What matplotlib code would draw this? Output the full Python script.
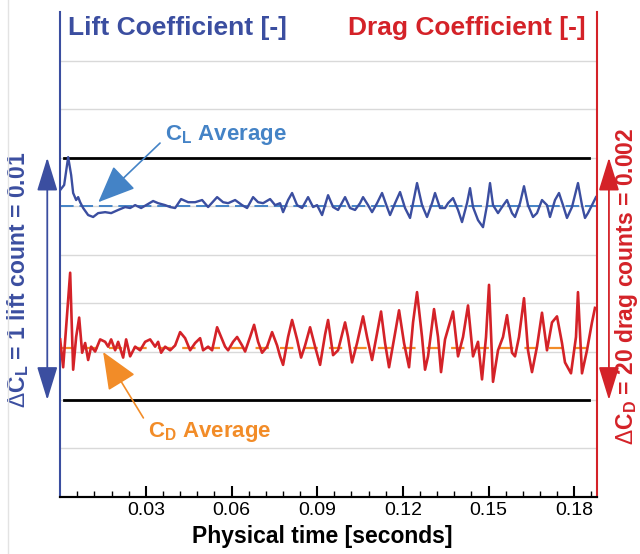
import numpy as np
import matplotlib
matplotlib.use("Agg")
import matplotlib.pyplot as plt
from matplotlib.lines import Line2D

plt.rcParams['font.family'] = ['Liberation Sans', 'DejaVu Sans']
plt.rcParams['mathtext.fontset'] = 'custom'
plt.rcParams['mathtext.rm'] = 'Liberation Sans'
plt.rcParams['mathtext.bf'] = 'Liberation Sans:bold'

# lift history: time [ms], CL [-]
t_lift = [0.00, 1.40, 2.80, 3.85, 4.55, 5.60, 6.30, 7.00, 8.05, 9.80, 11.55, 13.30, 15.75, 17.85,
          20.30, 22.75, 24.50, 26.25, 28.35, 30.10, 32.55, 34.30, 36.75, 38.50, 40.25, 42.35, 44.80,
          47.25, 49.70, 51.80, 54.95, 57.05, 58.80, 61.25, 63.70, 65.45, 67.55, 69.30, 71.05, 73.50,
          75.25, 77.00, 78.05, 79.80, 81.20, 82.95, 84.70, 86.80, 88.55, 89.95, 91.70, 93.80, 95.55,
          97.30, 99.75, 101.50, 103.25, 105.00, 106.05, 107.80, 109.20, 110.95, 112.70, 114.45,
          115.50, 117.25, 119.00, 120.75, 122.50, 123.55, 124.95, 126.70, 128.45, 130.20, 131.25,
          133.00, 134.75, 135.80, 137.55, 139.30, 140.70, 142.45, 143.50, 144.55, 146.30, 148.05,
          149.45, 150.50, 151.55, 153.30, 154.70, 156.45, 158.20, 159.25, 161.00, 162.40, 163.80,
          165.55, 166.95, 168.70, 170.45, 171.50, 173.25, 174.65, 176.05, 177.45, 179.20, 181.30,
          182.70, 183.75, 184.80, 186.55, 187.60]
cl = [0.50066, 0.50087, 0.50202, 0.50128, 0.50054, 0.50025, 0.50037, 0.50016, 0.49992, 0.49963,
      0.49955, 0.49971, 0.49975, 0.49971, 0.49984, 0.49996, 0.49992, 0.50004, 0.49992, 0.50004,
      0.50021, 0.50012, 0.50004, 0.49996, 0.49992, 0.50029, 0.50016, 0.50016, 0.50025, 0.49996,
      0.50037, 0.50016, 0.50012, 0.50025, 0.50004, 0.49992, 0.50037, 0.50016, 0.50012, 0.50029,
      0.50004, 0.50012, 0.49975, 0.50025, 0.50054, 0.50004, 0.49992, 0.50037, 0.49996, 0.50004,
      0.49963, 0.50045, 0.49996, 0.49984, 0.50037, 0.49992, 0.49984, 0.50012, 0.50037, 0.50004,
      0.49975, 0.50012, 0.50054, 0.49996, 0.49963, 0.50012, 0.50058, 0.49992, 0.49951, 0.50012,
      0.50095, 0.50004, 0.49955, 0.50012, 0.50054, 0.49992, 0.49992, 0.50012, 0.50033, 0.49984,
      0.49934, 0.50012, 0.50074, 0.49996, 0.49942, 0.49913, 0.50004, 0.50095, 0.50004, 0.49971,
      0.49996, 0.50025, 0.49971, 0.49955, 0.50012, 0.50082, 0.50004, 0.49955, 0.49971, 0.50025,
      0.50004, 0.49955, 0.50025, 0.50054, 0.50004, 0.49951, 0.49996, 0.50095, 0.50004, 0.49951,
      0.49971, 0.50012, 0.50037]

# drag history: time [ms], CD [-]
t_drag = [0.00, 1.05, 3.50, 4.55, 5.60, 6.65, 7.70, 8.75, 9.80, 10.85, 12.25, 14.00, 15.75, 16.80,
          17.85, 19.25, 20.30, 22.05, 23.10, 24.50, 26.25, 28.00, 29.75, 31.50, 33.25, 34.30, 35.35,
          36.75, 38.50, 40.25, 42.00, 43.75, 45.50, 47.25, 49.00, 50.05, 51.80, 53.20, 54.95, 56.70,
          57.75, 58.80, 60.55, 61.95, 63.70, 64.75, 66.50, 67.90, 69.30, 70.70, 72.45, 74.20, 75.95,
          77.00, 78.05, 79.80, 81.20, 82.95, 84.35, 85.75, 87.50, 89.25, 91.00, 92.75, 93.80, 95.55,
          97.30, 99.75, 100.80, 102.20, 103.95, 106.05, 107.45, 109.20, 110.95, 112.35, 113.75,
          115.15, 117.25, 118.65, 120.40, 122.15, 123.55, 124.95, 126.70, 127.75, 128.80, 130.90,
          132.30, 133.35, 134.75, 137.55, 139.30, 141.05, 142.80, 144.55, 146.30, 147.70, 149.10,
          150.15, 151.55, 153.30, 155.05, 156.45, 158.20, 159.25, 160.65, 162.40, 163.80, 165.20,
          166.95, 168.70, 170.45, 172.20, 173.95, 175.70, 176.75, 178.85, 180.60, 181.30, 182.70,
          184.45, 186.20, 187.25]
cd = [0.03007, 0.02984, 0.03062, 0.02982, 0.03009, 0.03025, 0.02996, 0.03004, 0.02990, 0.03001,
      0.02997, 0.03007, 0.03005, 0.03001, 0.03007, 0.02998, 0.03005, 0.02992, 0.03007, 0.02993,
      0.03001, 0.02998, 0.03005, 0.03007, 0.03001, 0.03005, 0.02996, 0.03001, 0.02998, 0.03002,
      0.03013, 0.03008, 0.02998, 0.03004, 0.03008, 0.02998, 0.03001, 0.02998, 0.03017, 0.03007,
      0.03001, 0.02998, 0.03005, 0.03009, 0.03002, 0.02997, 0.03009, 0.03019, 0.03005, 0.02996,
      0.03001, 0.03013, 0.03002, 0.02993, 0.02986, 0.03009, 0.03023, 0.03007, 0.02992, 0.03002,
      0.03017, 0.03001, 0.02986, 0.03011, 0.03023, 0.02994, 0.02998, 0.03021, 0.03009, 0.02988,
      0.03004, 0.03026, 0.03009, 0.02990, 0.03012, 0.03030, 0.03004, 0.02984, 0.03012, 0.03031,
      0.03004, 0.02984, 0.03021, 0.03046, 0.03009, 0.02982, 0.02993, 0.03032, 0.03009, 0.02980,
      0.03007, 0.03030, 0.02993, 0.03009, 0.03035, 0.02993, 0.03005, 0.02974, 0.03009, 0.03052,
      0.02972, 0.02998, 0.03009, 0.03027, 0.02996, 0.02993, 0.03009, 0.03041, 0.02998, 0.02980,
      0.03001, 0.03029, 0.02998, 0.03021, 0.03026, 0.03004, 0.02988, 0.02979, 0.03009, 0.03046,
      0.02979, 0.02998, 0.03021, 0.03033]

cl_avg = 0.5000
cd_avg = 0.0300
cl_ref = [0.502, 0.492]   # one lift count apart

blue = '#3b4ea0'
lightblue = '#4483c6'
red = '#d42228'
orange = '#f28c28'

fig = plt.figure(figsize=(6.4, 5.54), dpi=100)
ax = fig.add_axes([0.094, 0.103, 0.839, 0.875])
ax2 = ax.twinx()

t_l = np.array(t_lift) * 1e-3
t_d = np.array(t_drag) * 1e-3

ax.set_xlim(0, 0.188)
ax.set_ylim(0.488, 0.508)
ax2.set_ylim(0.02877, 0.03277)

for y in np.arange(0.490, 0.5065, 0.002):
    ax.axhline(y, color='#d9d9d9', lw=1, zorder=0)
for y in cl_ref:
    ax.axhline(y, xmin=0.008, xmax=0.985, color='black', lw=2, zorder=1)

ax.axhline(cl_avg, color=lightblue, lw=1.4, dashes=(7, 3), zorder=2)
ax.plot(t_l, cl, color=blue, lw=1.7, zorder=3)
ax2.axhline(cd_avg, color=orange, lw=1.6, dashes=(6, 5), zorder=2)
ax2.plot(t_d, cd, color=red, lw=1.9, zorder=3)

for a in (ax, ax2):
    a.spines['top'].set_visible(False)
    a.set_yticks([])
ax.spines['left'].set_color(blue)
ax.spines['left'].set_linewidth(1.5)
ax.spines['right'].set_visible(False)
ax2.spines['left'].set_visible(False)
ax2.spines['right'].set_color(red)
ax2.spines['right'].set_linewidth(1.5)
ax2.spines['bottom'].set_linewidth(1.5)
ax.spines['bottom'].set_linewidth(1.5)

ax.set_xticks([0.03, 0.06, 0.09, 0.12, 0.15, 0.18])
ax.set_xticklabels(['0.03', '0.06', '0.09', '0.12', '0.15', '0.18'])
ax.set_xticks(np.arange(0.006, 0.188, 0.006), minor=True)
ax.tick_params(axis='x', which='major', direction='in', length=8, width=1.5, labelsize=14, pad=4)
ax.tick_params(axis='x', which='minor', direction='in', length=4, width=1)
ax.set_xlabel('Physical time [seconds]', fontsize=16.5, fontweight='bold')
ax.xaxis.set_label_coords(0.488, -0.057)

ax.text(0.015, 0.967, 'Lift Coefficient [-]', transform=ax.transAxes, color=blue,
        fontsize=19, fontweight='bold', va='center', ha='left')
ax.text(0.978, 0.967, 'Drag Coefficient [-]', transform=ax.transAxes, color=red,
        fontsize=19, fontweight='bold', va='center', ha='right')

ax.text(0.196, 0.746, r'C$_\mathbf{L}$ Average', transform=ax.transAxes, color=lightblue,
        fontsize=16, fontweight='bold', va='center', ha='left')
ax.annotate('', xy=(0.071, 0.608), xytext=(0.186, 0.730), xycoords='axes fraction',
            arrowprops=dict(arrowstyle='-|>,head_length=1.3,head_width=0.55', color=lightblue,
                            lw=1.2, mutation_scale=18, shrinkA=0, shrinkB=0))
ax.text(0.164, 0.134, r'C$_\mathbf{D}$ Average', transform=ax.transAxes, color=orange,
        fontsize=16, fontweight='bold', va='center', ha='left')
ax.annotate('', xy=(0.080, 0.299), xytext=(0.155, 0.163), xycoords='axes fraction',
            arrowprops=dict(arrowstyle='-|>,head_length=1.3,head_width=0.55', color=orange,
                            lw=1.2, mutation_scale=18, shrinkA=0, shrinkB=0))

# delta-count bars outside the axes
ax.annotate('', xy=(-0.024, cl_ref[0]), xytext=(-0.024, cl_ref[1]),
            xycoords=('axes fraction', 'data'), annotation_clip=False,
            arrowprops=dict(arrowstyle='<|-|>,head_length=1.3,head_width=0.4', color=blue,
                            lw=1.3, mutation_scale=16, shrinkA=0, shrinkB=0))
ax.annotate('', xy=(1.022, cl_ref[0]), xytext=(1.022, cl_ref[1]),
            xycoords=('axes fraction', 'data'), annotation_clip=False,
            arrowprops=dict(arrowstyle='<|-|>,head_length=1.3,head_width=0.4', color=red,
                            lw=1.3, mutation_scale=16, shrinkA=0, shrinkB=0))
ax.text(-0.078, 0.447, r'$\Delta$C$_\mathbf{L}$ = 1 lift count = 0.01', transform=ax.transAxes,
        color=blue, fontsize=16.5, fontweight='bold', rotation=90, va='center', ha='center')
ax.text(1.054, 0.435, r'$\Delta$C$_\mathbf{D}$ = 20 drag counts = 0.002', transform=ax.transAxes,
        color=red, fontsize=16.5, fontweight='bold', rotation=90, va='center', ha='center')

fig.add_artist(Line2D([0.0125, 0.0125], [0.0, 1.0], transform=fig.transFigure,
                      color='#e3e3e3', lw=1))

plt.savefig('out.png', dpi=100)
